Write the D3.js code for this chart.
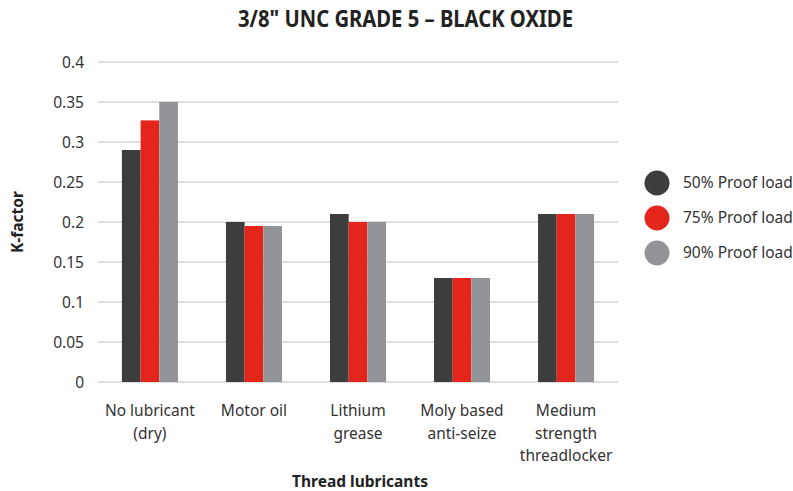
<!DOCTYPE html>
<html>
<head>
<meta charset="utf-8">
<script src="https://cdn.jsdelivr.net/npm/d3@7"></script>
<style>
  html, body { margin: 0; padding: 0; background: #fff; }
  svg { display: block; font-family: "Noto Sans", sans-serif; }
</style>
</head>
<body>
<svg id="chart" width="793" height="491"></svg>
<script>
// Thread lubricant categories (multi-line labels)
const categories = [
  ["No lubricant", "(dry)"],
  ["Motor oil"],
  ["Lithium", "grease"],
  ["Moly based", "anti-seize"],
  ["Medium", "strength", "threadlocker"]
];
const seriesNames = ["50% Proof load", "75% Proof load", "90% Proof load"];
const load50 = [0.29, 0.20, 0.21, 0.13, 0.21];
const load75 = [0.327, 0.195, 0.20, 0.13, 0.21];
const load90 = [0.35, 0.195, 0.20, 0.13, 0.21];
const yTicks = [0, 0.05, 0.1, 0.15, 0.2, 0.25, 0.3, 0.35, 0.4];
const colors = ["#3d3d3d", "#e3251c", "#939497"];

const seriesValues = [load50, load75, load90];
const svg = d3.select("#chart");

const plot = { left: 98, right: 618, top: 62, bottom: 382 };

const x0 = d3.scaleBand()
  .domain(d3.range(categories.length))
  .range([plot.left, plot.right])
  .paddingInner(0.4615)
  .paddingOuter(0.23);

const x1 = d3.scaleBand()
  .domain(d3.range(seriesNames.length))
  .range([0, x0.bandwidth()]);

const y = d3.scaleLinear().domain([0, 0.4]).range([plot.bottom, plot.top]);

// Horizontal gridlines
svg.append("g")
  .selectAll("line")
  .data(yTicks)
  .join("line")
  .attr("x1", plot.left)
  .attr("x2", plot.right)
  .attr("y1", d => y(d))
  .attr("y2", d => y(d))
  .attr("stroke", "#d3d3d3")
  .attr("stroke-width", 1.6);

// Y axis tick labels
const yAxis = d3.axisLeft(y).tickValues(yTicks).tickSize(0).tickPadding(0)
  .tickFormat(d => d === 0 ? "0" : String(+d.toFixed(2)));
const yg = svg.append("g")
  .attr("transform", `translate(${plot.left - 14},0)`)
  .call(yAxis);
yg.select(".domain").remove();
yg.selectAll("text")
  .attr("font-family", "Noto Sans, sans-serif")
  .attr("font-size", 15.5)
  .attr("fill", "#333")
  .attr("dy", "0.35em");

// Bars
const groups = svg.append("g")
  .selectAll("g")
  .data(categories.map((c, i) => i))
  .join("g")
  .attr("transform", i => `translate(${x0(i)},0)`);

groups.selectAll("rect")
  .data(i => seriesValues.map((s, k) => ({ k, v: s[i] })))
  .join("rect")
  .attr("x", d => x1(d.k))
  .attr("width", x1.bandwidth())
  .attr("y", d => y(d.v))
  .attr("height", d => y(0) - y(d.v))
  .attr("fill", d => colors[d.k]);

// Category labels
const xLab = svg.append("g")
  .selectAll("text")
  .data(categories.map((c, i) => ({ c, i })))
  .join("text")
  .attr("x", d => x0(d.i) + x0.bandwidth() / 2)
  .attr("y", 416)
  .attr("text-anchor", "middle")
  .attr("font-size", 15.5)
  .attr("fill", "#333");
xLab.selectAll("tspan")
  .data(d => d.c.map(line => ({ line, x: x0(d.i) + x0.bandwidth() / 2 })))
  .join("tspan")
  .attr("x", d => d.x)
  .attr("dy", (d, j) => j === 0 ? 0 : 22.5)
  .text(d => d.line);

// Axis titles
svg.append("text")
  .attr("x", 360)
  .attr("y", 487)
  .attr("text-anchor", "middle")
  .attr("font-size", 15.5)
  .attr("font-weight", "bold")
  .attr("fill", "#222")
  .text("Thread lubricants");

svg.append("text")
  .attr("transform", "translate(23,222) rotate(-90)")
  .attr("text-anchor", "middle")
  .attr("font-size", 15.5)
  .attr("font-weight", "bold")
  .attr("fill", "#222")
  .text("K-factor");

// Title
svg.append("text")
  .attr("x", 405.5)
  .attr("y", 27)
  .attr("text-anchor", "middle")
  .attr("font-size", 23)
  .attr("font-weight", "bold")
  .attr("fill", "#222")
  .attr("textLength", 335)
  .attr("lengthAdjust", "spacingAndGlyphs")
  .text("3/8\" UNC GRADE 5 \u2013 BLACK OXIDE");

// Legend
const legend = svg.append("g")
  .selectAll("g")
  .data(seriesNames.map((n, k) => ({ n, k })))
  .join("g")
  .attr("transform", d => `translate(657,${183 + d.k * 35})`);
legend.append("circle")
  .attr("r", 12.5)
  .attr("fill", d => colors[d.k]);
legend.append("text")
  .attr("x", 26)
  .attr("dy", "0.35em")
  .attr("font-size", 15.5)
  .attr("fill", "#333")
  .text(d => d.n);
</script>
</body>
</html>
